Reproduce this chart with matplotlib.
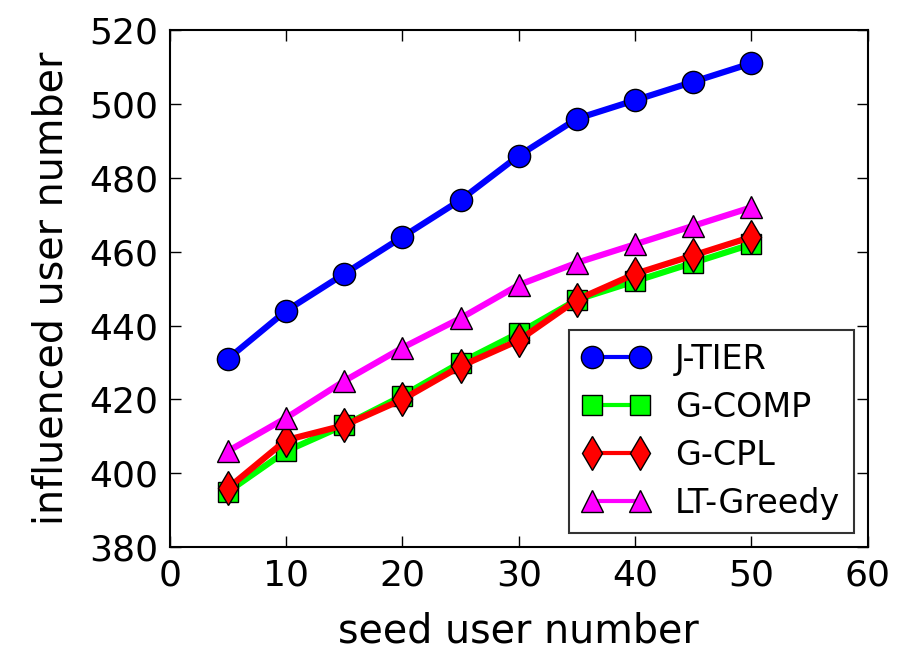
import matplotlib
matplotlib.use("Agg")
from matplotlib import pyplot as plt

seeds = [5, 10, 15, 20, 25, 30, 35, 40, 45, 50]
j_tier = [431, 444, 454, 464, 474, 486, 496, 501, 506, 511]
g_comp = [395, 406, 413, 421, 430, 438, 447, 452, 457, 462]
g_cpl = [396, 409, 413, 420, 429, 436, 447, 454, 459, 464]
lt_greedy = [406, 415, 425, 434, 442, 451, 457, 462, 467, 472]

plt.rcParams['font.family'] = 'DejaVu Sans'
fig = plt.figure(figsize=(9.03, 6.53), dpi=100)
ax = fig.add_axes([0.188, 0.162, 0.773, 0.792])

style = dict(linewidth=4.5, markeredgecolor='black', markeredgewidth=1)
ax.plot(seeds, j_tier, color='blue', marker='o', markersize=16, label='J-TIER', **style)
ax.plot(seeds, g_comp, color='#00ff00', marker='s', markersize=15, label='G-COMP', **style)
ax.plot(seeds, g_cpl, color='red', marker='d', markersize=17, label='G-CPL', **style)
ax.plot(seeds, lt_greedy, color='magenta', marker='^', markersize=16, label='LT-Greedy', **style)

ax.set_xlim(0, 60)
ax.set_ylim(380, 520)
ax.set_xticks(range(0, 61, 10))
ax.set_yticks(range(380, 521, 20))
ax.tick_params(direction='in', length=8, width=1, labelsize=26, top=True, right=True, pad=8)
for s in ax.spines.values():
    s.set_linewidth(1.5)

ax.set_xlabel("seed user number", fontsize=28.5, labelpad=14)
ax.set_ylabel("influenced user number", fontsize=28.5, labelpad=13)

leg = ax.legend(loc='lower right', fontsize=24, fancybox=False, numpoints=2,
                handlelength=2.05, handletextpad=0.75, borderpad=0.4,
                labelspacing=0.45, borderaxespad=0.42)
leg.get_frame().set_edgecolor('black')
leg.get_frame().set_linewidth(1.5)
for h in leg.get_lines():
    h.set_linewidth(3)

plt.savefig("out.png", dpi=100)
